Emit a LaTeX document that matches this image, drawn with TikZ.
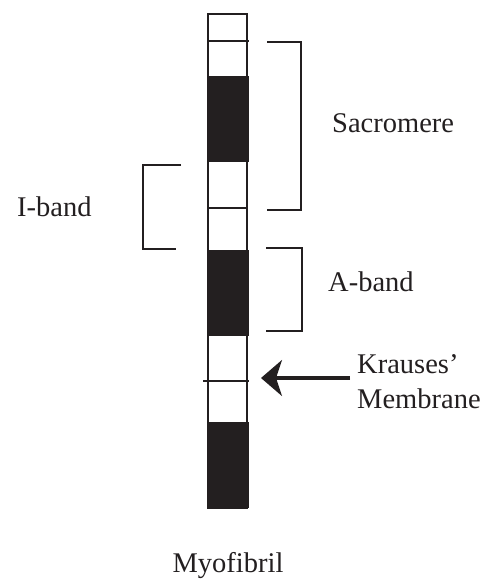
\documentclass[tikz,border=0pt]{standalone}
\usepackage{fontspec}
\setmainfont{Liberation Serif}
\usetikzlibrary{arrows.meta}
\definecolor{ink}{RGB}{35,31,32}
\begin{document}
\begin{tikzpicture}[x=1pt,y=-1pt,
  outline/.style={line width=2pt, draw=ink},
  band/.style={fill=ink},
  bracket/.style={line width=2pt, draw=ink},
  lbl/.style={font=\fontsize{28.5}{35}\selectfont, inner sep=0pt, anchor=base west, text=ink},
  pointer/.style={line width=3.2pt, draw=ink, fill=ink, -{Stealth[length=21pt,width=36pt,inset=6pt]}}]
\useasboundingbox (0,0) rectangle (487,579);
% dark A-bands of the fibril
\fill[band] (208,76) rectangle (249,162);
\fill[band] (208,250) rectangle (249,336);
\fill[band] (208,422) rectangle (249,508);
% fibril outline
\draw[outline] (208,14) rectangle (247,508);
% Z lines
\draw[outline] (208,41) -- (249,41);
\draw[outline] (208,208) -- (247,208);
\draw[outline] (203,381) -- (249,381);
% brackets
\draw[bracket] (267,42) -- (301,42) -- (301,210) -- (267,210);
\draw[bracket] (181,165) -- (143,165) -- (143,249) -- (176,249);
\draw[bracket] (266,248) -- (302,248) -- (302,331) -- (266,331);
% labels
\node[lbl] (sarc) at (332,132) {Sacromere};
\node[lbl] (iband) at (17,216) {I-band};
\node[lbl] (aband) at (328,291) {A-band};
\node[lbl] (kraus) at (357,373) {Krauses'};
\node[lbl] (memb) at (357,408) {Membrane};
\node[lbl, anchor=base] (myo) at (228,572) {Myofibril};
% pointer to the Z line
\coordinate (kstart) at (350,378);
\coordinate (ktip) at (261,378);
\draw[pointer] (kstart) -- (ktip);
\end{tikzpicture}
\end{document}
